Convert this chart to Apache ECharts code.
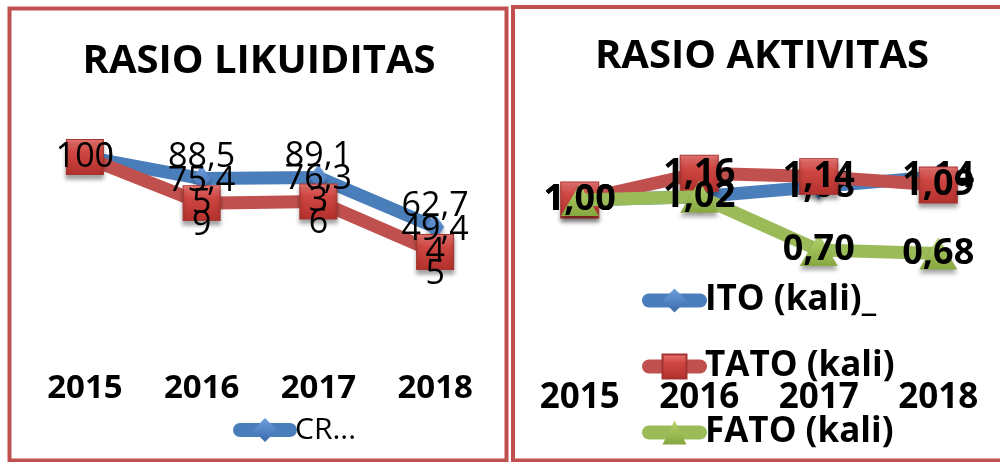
<!DOCTYPE html>
<html>
<head>
<meta charset="utf-8">
<style>
html,body{margin:0;padding:0;background:#fff;}
#chart{width:1000px;height:462px;}
</style>
<script src="https://cdn.jsdelivr.net/npm/echarts@6/dist/echarts.min.js"></script>
</head>
<body>
<div id="chart"></div>
<script>
// ---- data ----
const years = ['2015', '2016', '2017', '2018'];
const crValues = [100, 88.5, 89.1, 62.7];
const qrValues = [100, 75.459, 76.336, 49.445];
const itoValues = [1.00, 1.02, 1.08, 1.14];
const tatoValues = [1.00, 1.16, 1.14, 1.09];
const fatoValues = [1.00, 1.02, 0.70, 0.68];
const leftTitle = 'RASIO LIKUIDITAS';
const rightTitle = 'RASIO AKTIVITAS';

const FONT = '"Open Sans", "Liberation Sans", sans-serif';
const BLUE = '#4a7ebb';
const RED = '#c0504d';
const GREEN = '#9bbb59';
const shadow = {shadowColor: 'rgba(0,0,0,0.35)', shadowBlur: 4, shadowOffsetY: 4};

const redFill = new echarts.graphic.LinearGradient(0, 0, 0, 1, [
  {offset: 0, color: '#ea7874'}, {offset: 0.35, color: '#cf4743'}, {offset: 1, color: '#b3302c'}
]);
const greenFill = new echarts.graphic.LinearGradient(0, 0, 0, 1, [
  {offset: 0, color: '#b5d46f'}, {offset: 1, color: '#86a63f'}
]);
const blueFill = new echarts.graphic.LinearGradient(0, 0, 0, 1, [
  {offset: 0, color: '#6f9fe0'}, {offset: 1, color: '#3a6aa8'}
]);

const comma = v => String(v).replace('.', ',');
const wrapLabel = v => {
  const s = comma(v);
  if (s.length <= 4) return s;
  return [s.slice(0, 4)].concat(s.slice(4).split('')).join('\n');
};
const fmt2 = v => v.toFixed(2).replace('.', ',');

const chart = echarts.init(document.getElementById('chart'), null, {renderer: 'canvas'});

const leftLabel = {
  show: true, fontFamily: FONT, fontSize: 34, fontWeight: 'normal', color: '#000',
  textBorderWidth: 0, position: 'inside'
};
const rightLabel = {
  show: true, fontFamily: FONT, fontSize: 36, fontWeight: 'bold', color: '#000',
  textBorderWidth: 0, position: 'inside'
};

chart.setOption({
  animation: false,
  backgroundColor: '#fff',
  title: [
    {text: leftTitle, left: 259, top: 42, textAlign: 'center', padding: 0,
     textStyle: {fontFamily: FONT, fontSize: 40, fontWeight: 'bold', color: '#000'}},
    {text: rightTitle, left: 762, top: 37, textAlign: 'center', padding: 0,
     textStyle: {fontFamily: FONT, fontSize: 40, fontWeight: 'bold', color: '#000'}}
  ],
  legend: [
    {data: ['CR'], orient: 'horizontal', left: 233, top: 415, padding: 0,
     itemWidth: 50, itemHeight: 30, formatter: '{name}...',
     lineStyle: {width: 14, cap: 'round'},
     textStyle: {fontFamily: FONT, fontSize: 30, color: '#000', lineHeight: 30}},
    {data: ['ITO (kali)_', 'TATO (kali)', 'FATO (kali)'], orient: 'vertical', left: 642, top: 283,
     padding: 0, itemWidth: 51, itemHeight: 30, itemGap: 31,
     lineStyle: {width: 14, cap: 'round'},
     textStyle: {fontFamily: FONT, fontSize: 35, fontWeight: 'bold', color: '#000', lineHeight: 30}}
  ],
  grid: [
    {left: 26.5, right: 506.5, top: 157, bottom: 117, containLabel: false},
    {left: 520, right: 2, top: 166.6, bottom: 95, containLabel: false}
  ],
  xAxis: [
    {type: 'category', gridIndex: 0, data: years, boundaryGap: true,
     axisLine: {show: false}, axisTick: {show: false},
     axisLabel: {margin: 27, fontFamily: FONT, fontSize: 33, fontWeight: 'bold', color: '#000'}},
    {type: 'category', gridIndex: 1, data: years, boundaryGap: true,
     axisLine: {show: false}, axisTick: {show: false},
     axisLabel: {margin: 14, fontFamily: FONT, fontSize: 35, fontWeight: 'bold', color: '#000'}}
  ],
  yAxis: [
    {type: 'value', gridIndex: 0, min: 0, max: 100, show: false, splitLine: {show: false}},
    {type: 'value', gridIndex: 1, min: 0, max: 1.2, show: false, splitLine: {show: false}}
  ],
  series: [
    {name: 'CR', type: 'line', xAxisIndex: 0, yAxisIndex: 0,
     data: crValues.map((v, i) => i === 0 ? {value: v, label: {offset: [0, 0]}} : v),
     symbol: 'diamond', symbolSize: [18, 26],
     lineStyle: {color: BLUE, width: 13, cap: 'round', join: 'round'},
     itemStyle: Object.assign({color: blueFill, borderWidth: 0}, shadow),
     label: Object.assign({}, leftLabel, {offset: [0, -21], formatter: p => comma(p.value)}),
     z: 2},
    {name: 'QR', type: 'line', xAxisIndex: 0, yAxisIndex: 0, data: qrValues,
     symbol: 'rect', symbolSize: [37, 35],
     lineStyle: {color: RED, width: 13, cap: 'round', join: 'round'},
     itemStyle: Object.assign({color: redFill, borderColor: '#a33430', borderWidth: 1}, shadow),
     label: Object.assign({}, leftLabel, {lineHeight: 22, formatter: p => wrapLabel(p.value)}),
     z: 3},
    {name: 'ITO (kali)_', type: 'line', xAxisIndex: 1, yAxisIndex: 1, data: itoValues,
     symbol: 'diamond', symbolSize: [18, 26],
     lineStyle: {color: BLUE, width: 13, cap: 'round', join: 'round'},
     itemStyle: Object.assign({color: blueFill, borderWidth: 0}, shadow),
     label: Object.assign({}, rightLabel, {formatter: p => fmt2(p.value)}),
     z: 2},
    {name: 'TATO (kali)', type: 'line', xAxisIndex: 1, yAxisIndex: 1, data: tatoValues,
     symbol: 'rect', symbolSize: [38, 36],
     lineStyle: {color: RED, width: 13, cap: 'round', join: 'round'},
     itemStyle: Object.assign({color: redFill, borderColor: '#a33430', borderWidth: 1}, shadow),
     label: Object.assign({}, rightLabel, {formatter: p => fmt2(p.value)}),
     z: 3},
    {name: 'FATO (kali)', type: 'line', xAxisIndex: 1, yAxisIndex: 1, data: fatoValues,
     symbol: 'triangle', symbolSize: [38, 32],
     lineStyle: {color: GREEN, width: 13, cap: 'round', join: 'round'},
     itemStyle: Object.assign({color: greenFill, borderWidth: 0}, shadow),
     label: Object.assign({}, rightLabel, {formatter: p => fmt2(p.value)}),
     z: 4}
  ],
  graphic: [
    {type: 'rect', shape: {x: 9.5, y: 8.5, width: 497, height: 452}, silent: true,
     style: {fill: 'none', stroke: RED, lineWidth: 4}, z: 100},
    {type: 'rect', shape: {x: 513, y: 7, width: 490, height: 453.5}, silent: true,
     style: {fill: 'none', stroke: RED, lineWidth: 4}, z: 100}
  ]
});
</script>
</body>
</html>
